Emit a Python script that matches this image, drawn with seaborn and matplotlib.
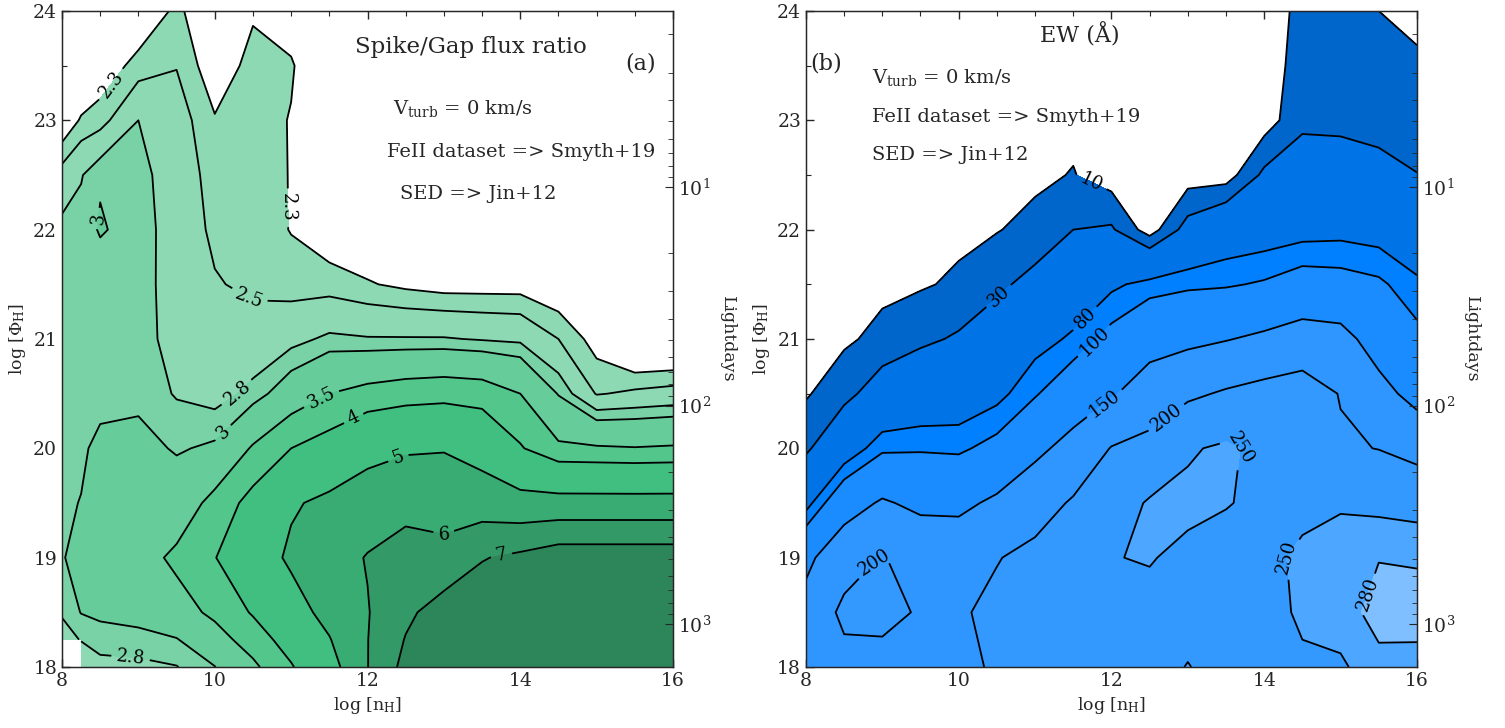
import numpy as np
import matplotlib
matplotlib.use("Agg")
import matplotlib.pyplot as plt
import seaborn as sns

# ---------------- data: panel (a) Spike/Gap flux ratio ----------------
nH_a = [8, 8.25, 8.5, 9, 9.5, 10, 10.5, 11, 11.5, 12, 12.5, 13, 13.5, 14, 14.5, 15, 15.5, 16]
phi_a = [18, 18.25, 18.5, 19, 19.5, 20, 20.5, 21, 21.5, 22, 22.5, 23, 23.5, 24]
nan = np.nan
ratio_18_00 = [nan, 2.65, 2.72, 2.74, 2.79, 2.99, 3.4, 3.95, 4.6, 5.98, 7.3, 7.7, 7.8, 7.8, 7.85, 7.9, 7.9, 7.9]
ratio_18_25 = [2.72, 2.81, 2.9, 2.92, 2.98, 3.3, 3.72, 4.25, 4.95, 5.98, 7.05, 7.6, 7.75, 7.8, 7.85, 7.9, 7.9, 7.9]
ratio_18_50 = [2.82, 3.01, 3.05, 3.1, 3.3, 3.6, 4.05, 4.6, 5.3, 5.95, 6.8, 7.45, 7.6, 7.7, 7.8, 7.85, 7.85, 7.85]
ratio_19_00 = [2.99, 3.05, 3.2, 3.3, 3.6, 3.98, 4.5, 5.15, 5.6, 6.05, 6.4, 6.3, 6.95, 7.2, 7.55, 7.55, 7.55, 7.55]
ratio_19_50 = [2.95, 3.01, 3.2, 3.3, 3.2, 3.65, 4.2, 4.9, 5.2, 5.5, 5.7, 5.6, 5.5, 5.3, 5.3, 5.3, 5.3, 5.3]
ratio_20_00 = [2.93, 2.95, 3.08, 3.1, 2.97, 3.05, 3.55, 4.0, 4.25, 4.7, 4.9, 4.95, 4.65, 4.05, 3.58, 3.55, 3.52, 3.55]
ratio_20_50 = [2.92, 2.92, 2.9, 2.93, 2.78, 2.7, 2.87, 3.2, 3.5, 3.65, 3.75, 3.8, 3.75, 3.5, 2.98, 2.48, 2.55, 2.6]
ratio_21_00 = [2.9, 2.9, 2.88, 2.9, 2.7, 2.6, 2.62, 2.72, 2.85, 2.82, 2.82, 2.82, 2.78, 2.75, 2.5, 2.2, 1.9, 1.9]
ratio_21_50 = [2.9, 2.9, 2.88, 2.9, 2.68, 2.52, 2.45, 2.4, 2.4, 2.32, 2.25, 2.2, 2.2, 2.2, 2.1, 2.05, 1.85, 1.85]
ratio_22_00 = [2.88, 2.9, 3.02, 2.92, 2.66, 2.45, 2.42, 2.29, 2.15, 2.1, 2.1, 2.05, 2.05, 2.05, 2.0, 1.95, 1.85, 1.85]
ratio_22_50 = [2.6, 2.78, 2.98, 2.88, 2.66, 2.4, 2.4, 2.29, 2.1, 2.05, 2.05, 2.0, 2.0, 2.0, 1.95, 1.9, 1.85, 1.8]
ratio_23_00 = [2.1, 2.33, 2.4, 2.8, 2.62, 2.32, 2.38, 2.29, 2.1, 2.05, 2.0, 2.0, 1.95, 1.95, 1.9, 1.9, 1.8, 1.8]
ratio_23_50 = [1.9, 2.0, 2.15, 2.38, 2.49, 2.15, 2.38, 2.32, 2.1, 2.0, 2.0, 1.95, 1.95, 1.9, 1.9, 1.85, 1.8, 1.8]
ratio_24_00 = [1.8, 1.9, 2.0, 2.1, 2.35, 2.1, 2.27, 2.2, 2.0, 1.95, 1.95, 1.9, 1.9, 1.9, 1.85, 1.85, 1.8, 1.8]
ratio_levels = [2.3, 2.5, 2.8, 3, 3.5, 4, 5, 6, 7]

# ---------------- data: panel (b) EW (Angstrom) ----------------
nH_b = [8, 8.5, 9, 9.5, 10, 10.5, 11, 11.5, 12, 12.5, 13, 13.5, 14, 14.5, 15, 15.5, 16]
phi_b = [18, 18.5, 19, 19.5, 20, 20.5, 21, 21.5, 22, 22.5, 23, 23.5, 24]
ew_18_0 = [175, 185, 185, 185, 190, 205, 225, 228, 232, 240, 251, 240, 238, 245, 244, 272, 270]
ew_18_5 = [165, 210, 212, 196, 195, 210, 222, 228, 238, 240, 240, 235, 238, 255, 268, 290, 292]
ew_19_0 = [140, 180, 202, 185, 180, 198, 212, 222, 249, 252, 242, 235, 240, 257, 270, 279, 277]
ew_19_5 = [70, 130, 155, 140, 140, 158, 180, 205, 230, 254, 258, 252, 242, 240, 245, 240, 235]
ew_20_0 = [25, 60, 95, 97, 95, 110, 140, 165, 202, 215, 246, 256, 240, 238, 205, 199, 185]
ew_20_5 = [8, 22, 45, 55, 60, 72, 97, 125, 146, 170, 192, 205, 215, 222, 198, 165, 135]
ew_21_0 = [5, 7, 15, 25, 33, 45, 70, 84, 110, 135, 140, 148, 158, 170, 165, 130, 108]
ew_21_5 = [5, 5, 6, 8, 13, 25, 38, 60, 75, 88, 95, 97, 103, 115, 112, 105, 85]
ew_22_0 = [5, 5, 5, 5, 6, 9, 16, 30, 33, 0, 40, 60, 65, 70, 72, 68, 55]
ew_22_5 = [5, 5, 5, 5, 5, 5, 6, 11, 0, 0, 0, 0, 35, 45, 42, 38, 30.5]
ew_23_0 = [5, 5, 5, 5, 5, 5, 5, 5, 0, 0, 0, 0, 0, 25, 25, 22, 20]
ew_23_5 = [5, 5, 5, 5, 5, 5, 5, 5, 0, 0, 0, 0, 0, 18, 18, 15, 13]
ew_24_0 = [5, 5, 5, 5, 5, 5, 5, 5, 0, 0, 0, 0, 0, 15, 14, 10, 5]
ew_levels = [10, 30, 80, 100, 150, 200, 250, 280]

# right axis: log Phi_H at which the radius is 10 light days (R ~ Phi^-1/2)
phi_at_10ld = 22.39

# ---------------- styling ----------------
sns.set_style("ticks", {"xtick.direction": "in", "ytick.direction": "in"})
plt.rcParams["font.family"] = ["DejaVu Serif"]
plt.rcParams["mathtext.fontset"] = "dejavuserif"

green_cols = ["#8cd9b3", "#8cd9b3", "#79d2a6", "#66cc99", "#53c68c",
              "#40bf80", "#39ac73", "#339966", "#2d8659"]
blue_cols = ["#0066cc", "#0073e6", "#0080ff", "#1a8cff", "#3096ff",
             "#3399ff", "#4da6ff", "#80bfff"]

Za = np.array([ratio_18_00, ratio_18_25, ratio_18_50, ratio_19_00, ratio_19_50,
               ratio_20_00, ratio_20_50, ratio_21_00, ratio_21_50, ratio_22_00,
               ratio_22_50, ratio_23_00, ratio_23_50, ratio_24_00])
Zb = np.array([ew_18_0, ew_18_5, ew_19_0, ew_19_5, ew_20_0, ew_20_5, ew_21_0,
               ew_21_5, ew_22_0, ew_22_5, ew_23_0, ew_23_5, ew_24_0])
Za = np.ma.masked_invalid(Za)

fig = plt.figure(figsize=(15.05, 7.28), dpi=100)
ax_a = fig.add_axes([0.0412, 0.0838, 0.406, 0.9011])
ax_b = fig.add_axes([0.5355, 0.0838, 0.406, 0.9011])


def light_days(phi):
    return 10 ** (1 - 0.5 * (phi - phi_at_10ld))


def style_axes(ax):
    ax.set_xlim(8, 16)
    ax.set_ylim(18, 24)
    ax.set_xticks([8, 10, 12, 14, 16])
    ax.set_yticks([18, 19, 20, 21, 22, 23, 24])
    ax.set_xticks(np.arange(8, 16.01, 0.5), minor=True)
    ax.set_yticks(np.arange(18, 24.01, 0.5), minor=True)
    ax.tick_params(which="both", direction="in", top=True, right=False,
                   labelsize=13.5)
    ax.tick_params(which="major", length=6, width=1)
    ax.tick_params(which="minor", length=3.5, width=0.8)
    ax.set_xlabel(r"log [n$_{\rm H}$]", fontsize=12.5)
    ax.set_ylabel(r"log [$\Phi_{\rm H}$]", fontsize=12.5)
    for s in ax.spines.values():
        s.set_linewidth(1.0)
    ax2 = ax.twinx()
    ax2.set_yscale("log")
    ax2.set_ylim(light_days(18), light_days(24))
    ax2.tick_params(which="both", direction="in", labelsize=13.5)
    ax2.tick_params(which="major", length=6)
    ax2.tick_params(which="minor", length=3.5)
    ax2.set_ylabel("Lightdays", rotation=270, labelpad=18, fontsize=12.5)
    return ax2


fmt = lambda v: f"{v:g}"

# ---------------- panel (a) ----------------
cf = ax_a.contourf(nH_a, phi_a, Za, levels=ratio_levels + [8.5],
                   colors=green_cols, corner_mask=False)
cl = ax_a.contour(nH_a, phi_a, Za, levels=ratio_levels, colors="black",
                  linewidths=1.3, corner_mask=False)
lab_pos_a = [(8.7, 23.3), (10.95, 22.2), (10.3, 21.2), (10.3, 20.5),
             (10.1, 20.15), (11.4, 20.45), (11.8, 20.3), (12.4, 19.92),
             (13.0, 19.2), (13.8, 18.85), (8.9, 18.1), (8.5, 22.1)]
ax_a.clabel(cl, inline=True, fontsize=13, fmt=fmt, manual=lab_pos_a)
style_axes(ax_a)
ax_a.text(13.35, 23.67, "Spike/Gap flux ratio", ha="center", va="center", fontsize=16.5)
ax_a.text(15.58, 23.52, "(a)", ha="center", va="center", fontsize=16)
ax_a.text(12.33, 23.11, r"V$_{\rm turb}$ = 0 km/s", ha="left", va="center", fontsize=14)
ax_a.text(12.25, 22.71, "FeII dataset => Smyth+19", ha="left", va="center", fontsize=14)
ax_a.text(12.42, 22.33, "SED => Jin+12", ha="left", va="center", fontsize=14)

# ---------------- panel (b) ----------------
cf = ax_b.contourf(nH_b, phi_b, Zb, levels=ew_levels + [320], colors=blue_cols)
cl = ax_b.contour(nH_b, phi_b, Zb, levels=ew_levels, colors="black", linewidths=1.3)
lab_pos_b = [(11.75, 22.45), (10.54, 21.38), (11.68, 21.17), (11.76, 20.99),
             (11.91, 20.41), (8.9, 18.95), (12.7, 20.3), (13.9, 20.05),
             (14.23, 19.0), (15.2, 18.7)]
ax_b.clabel(cl, inline=True, fontsize=13, fmt=fmt, manual=lab_pos_b)
style_axes(ax_b)
ax_b.text(11.59, 23.78, "EW (Å)", ha="center", va="center", fontsize=16)
ax_b.text(8.27, 23.52, "(b)", ha="center", va="center", fontsize=16)
ax_b.text(8.86, 23.39, r"V$_{\rm turb}$ = 0 km/s", ha="left", va="center", fontsize=14)
ax_b.text(8.86, 23.03, "FeII dataset => Smyth+19", ha="left", va="center", fontsize=14)
ax_b.text(8.86, 22.68, "SED => Jin+12", ha="left", va="center", fontsize=14)

fig.savefig("out.png", dpi=100)
